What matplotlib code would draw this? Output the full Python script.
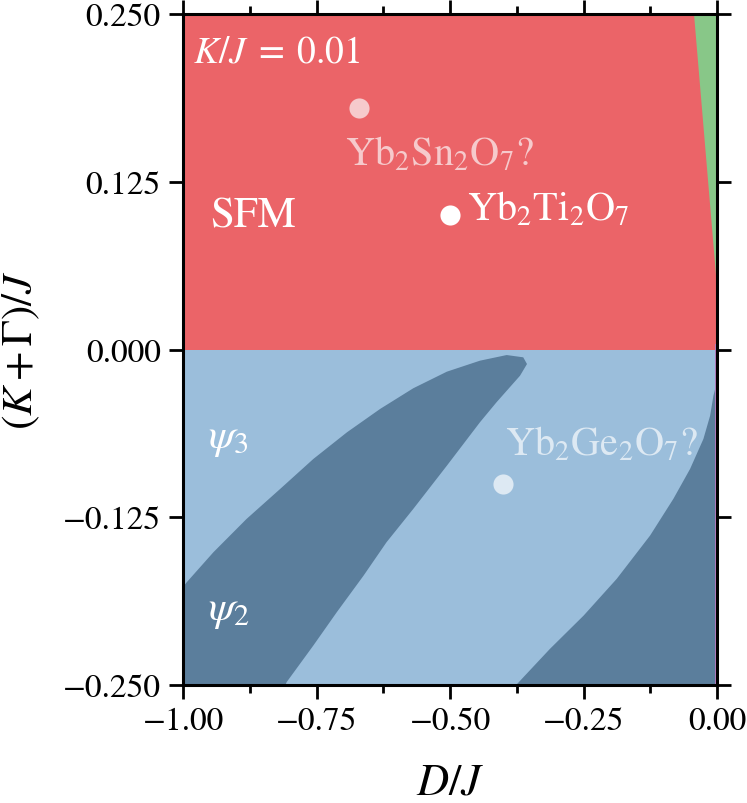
import matplotlib
matplotlib.use('Agg')
import matplotlib.pyplot as plt
from matplotlib.ticker import MultipleLocator, FuncFormatter

plt.rcParams['font.family'] = ['STIXGeneral', 'DejaVu Serif']
plt.rcParams['mathtext.fontset'] = 'stix'

# phase boundaries (D/J, (K+G)/J)
band1_upper_x = [-1.0, -0.993, -0.943, -0.881, -0.818, -0.756, -0.693, -0.631,
                 -0.569, -0.506, -0.444, -0.394, -0.363, -0.356]
band1_upper_y = [-0.177, -0.1735, -0.1511, -0.1263, -0.1039, -0.0816, -0.0617,
                 -0.0443, -0.0289, -0.0165, -0.0083, -0.0041, -0.0058, -0.0108]
band1_lower_x = [-0.369, -0.413, -0.444, -0.506, -0.569, -0.619, -0.662, -0.712,
                 -0.756, -0.806, -0.808]
band1_lower_y = [-0.0195, -0.0393, -0.0542, -0.0866, -0.1189, -0.1437, -0.1686,
                 -0.1958, -0.2207, -0.248, -0.25]

band2_x = [-0.376, -0.313, -0.250, -0.188, -0.1255, -0.082, -0.0506, -0.0257,
           -0.0131, -0.0069, -0.0037, -0.001, 0.0]
band2_y = [-0.25, -0.2232, -0.1984, -0.171, -0.1387, -0.1114, -0.089, -0.0667,
           -0.0493, -0.0344, -0.0294, -0.024, -0.02]

green_x = [-0.0425, 0.0, 0.0]
green_y = [0.25, 0.25, 0.047]

materials = ['Yb$_2$Ti$_2$O$_7$', 'Yb$_2$Sn$_2$O$_7$?', 'Yb$_2$Ge$_2$O$_7$?']
mat_x = [-0.50, -0.67, -0.40]
mat_y = [0.10, 0.18, -0.10]

xlim = (-1.0, 0.0)
ylim = (-0.25, 0.25)

c_sfm = '#EB6468'
c_psi3 = '#9BBEDB'
c_psi2 = '#5B7E9C'
c_green = '#88C788'
c_purple = '#B47CC0'


def fmt(n):
    return FuncFormatter(lambda v, p: ('%.*f' % (n, v)).replace('-', '\u2212'))


fig = plt.figure(figsize=(7.47, 8.04), dpi=100)
ax = fig.add_axes([0.245, 0.147, 0.715, 0.834])

# background phases
ax.fill_between(xlim, 0, ylim[1], color=c_sfm, lw=0)
ax.fill_between(xlim, ylim[0], 0, color=c_psi3, lw=0)

# psi2 band on the left
b1x = [xlim[0]] + band1_upper_x + band1_lower_x
b1y = [ylim[0]] + band1_upper_y + band1_lower_y
ax.fill(b1x, b1y, color=c_psi2, lw=0)

# psi2 band on the right
b2x = band2_x + [xlim[1]]
b2y = band2_y + [ylim[0]]
ax.fill(b2x, b2y, color=c_psi2, lw=0)

ax.fill(green_x, green_y, color=c_green, lw=0)
ax.fill([-0.004, 0.0, 0.0, -0.004], [ylim[0], ylim[0], 0.004, 0.004],
        color=c_purple, lw=0)

# materials
ax.scatter(mat_x[0], mat_y[0], s=210, color='white', zorder=5, lw=0)
ax.text(-0.468, 0.097, materials[0], color='white', fontsize=29, va='baseline')
ax.scatter(mat_x[1], mat_y[1], s=210, color='#F6CACC', zorder=5, lw=0)
ax.text(-0.697, 0.138, materials[1], color='#F6CACC', fontsize=29, va='baseline')
ax.scatter(mat_x[2], mat_y[2], s=210, color='#DDE9F3', zorder=5, lw=0)
ax.text(-0.397, -0.078, materials[2], color='#DDE9F3', fontsize=29, va='baseline')

ax.text(-0.981, 0.215, r'$K/J\;=\;0.01$', color='white', fontsize=27, va='baseline')
ax.text(-0.949, 0.092, 'SFM', color='white', fontsize=31, va='baseline')
ax.text(-0.953, -0.0727, r'$\psi_3$', color='white', fontsize=31, va='baseline')
ax.text(-0.953, -0.2008, r'$\psi_2$', color='white', fontsize=31, va='baseline')

ax.set_xlim(*xlim)
ax.set_ylim(*ylim)
ax.xaxis.set_major_locator(MultipleLocator(0.25))
ax.xaxis.set_minor_locator(MultipleLocator(0.125))
ax.yaxis.set_major_locator(MultipleLocator(0.125))
ax.xaxis.set_major_formatter(fmt(2))
ax.yaxis.set_major_formatter(fmt(3))
ax.tick_params(which='both', direction='out', top=True, right=True, width=2,
               labelsize=24)
ax.tick_params(which='major', length=10, pad=6)
ax.tick_params(which='minor', length=6)
for s in ax.spines.values():
    s.set_linewidth(2.2)
    s.set_zorder(10)

ax.set_xlabel(r'$D/J$', fontsize=32, labelpad=20)
ax.set_ylabel(r'$(K+\Gamma)/J$', fontsize=31, labelpad=15)

fig.savefig('out.png', dpi=100)
